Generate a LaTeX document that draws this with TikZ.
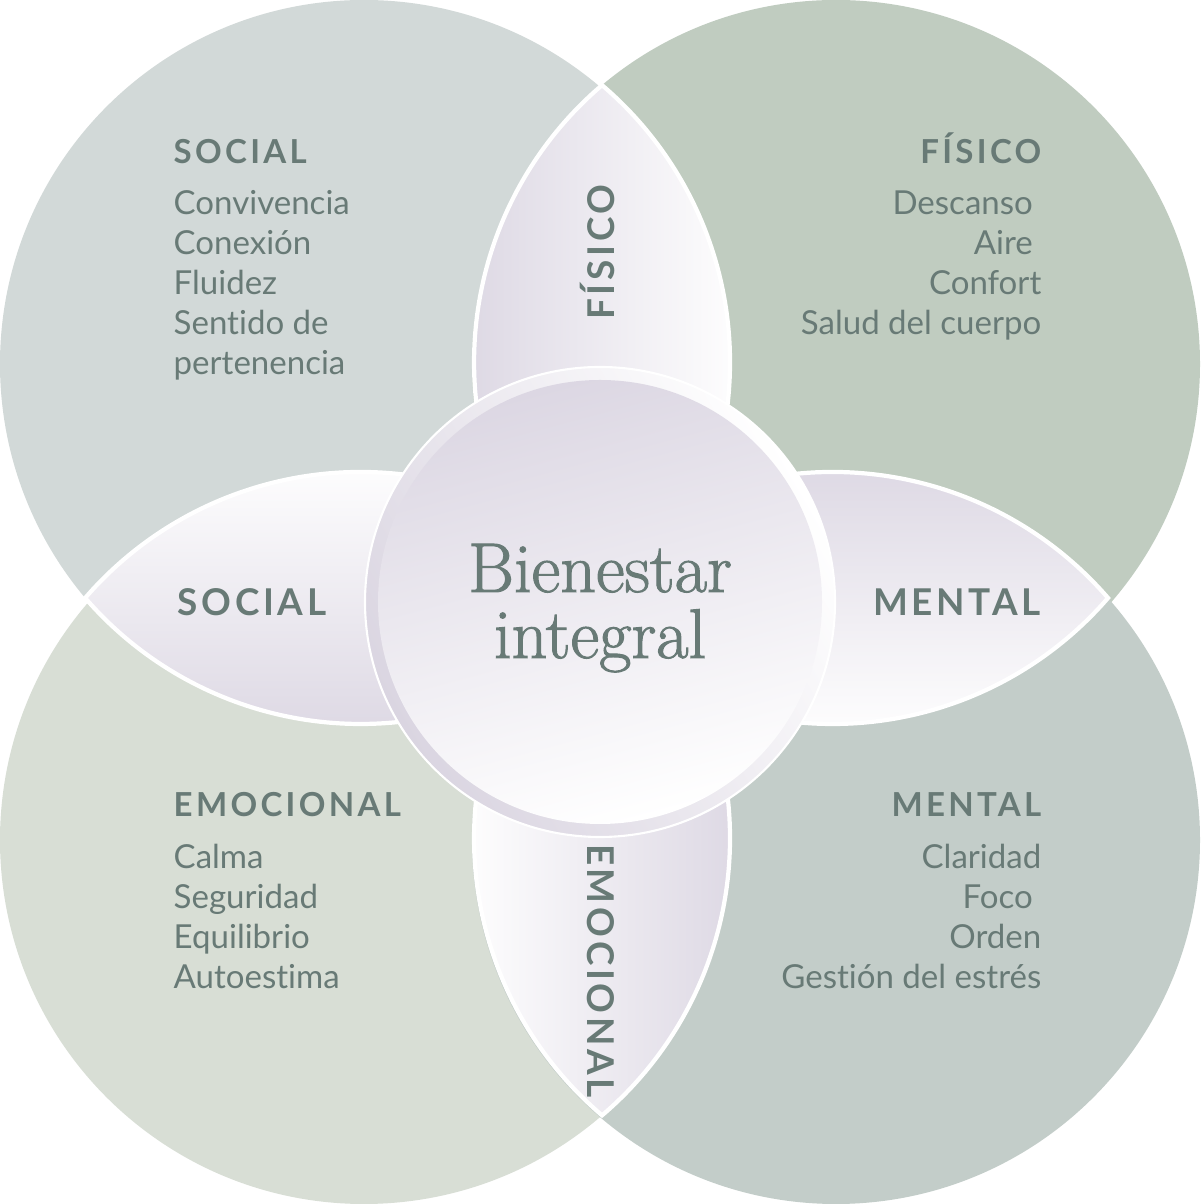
\documentclass[tikz,border=0pt]{standalone}
\usepackage{fontspec}
\newfontfamily\latofont{Lato}[Ligatures=NoCommon]
\newfontfamily\latospaced{Lato}[LetterSpace=10,Ligatures=NoCommon]
\newfontfamily\titlefont{Latin Modern Roman}[FakeBold=1.4]

\definecolor{circTL}{HTML}{D2D9D8}
\definecolor{circTR}{HTML}{C0CCC0}
\definecolor{circBL}{HTML}{D8DED5}
\definecolor{circBR}{HTML}{C3CDC9}
\definecolor{lav}{HTML}{DCD7E3}
\definecolor{lavring}{HTML}{DAD5E1}
\definecolor{ink}{HTML}{687A76}

\begin{document}
\begin{tikzpicture}[bigcirc/.style={circle,minimum size=7.28cm,inner sep=0pt,outer sep=0pt,draw=none},
  petal/.style={draw=white,line width=1.2pt},
  head/.style={text=ink,font=\latospaced\bfseries\fontsize{9.4}{11}\selectfont},
  item/.style={text=ink,font=\latofont\fontsize{9.4}{11}\selectfont},
  tag/.style={text=ink,font=\latospaced\bfseries\fontsize{10.5}{12}\selectfont},
  title/.style={text=ink,font=\titlefont\fontsize{20}{22}\selectfont}]
  \tikzstyle{every node}=[inner sep=0pt]

  \useasboundingbox (0,0) rectangle (12,12.04);
  \fill[white] (0,0) rectangle (12,12.04);

  \node[bigcirc,fill=circTL] (tl) at (3.64,8.40) {};
  \node[bigcirc,fill=circTR] (tr) at (8.36,8.40) {};
  \node[bigcirc,fill=circBL] (bl) at (3.64,3.64) {};
  \node[bigcirc,fill=circBR] (br) at (8.36,3.64) {};

  \path[petal,left color=lav,right color=white] (tr.130.42)
    arc[start angle=130.42,end angle=229.58,radius=3.64]
    arc[start angle=-49.58,end angle=49.58,radius=3.64] -- cycle;
  \path[petal,left color=white,right color=lav] (br.130.42)
    arc[start angle=130.42,end angle=229.58,radius=3.64]
    arc[start angle=-49.58,end angle=49.58,radius=3.64] -- cycle;
  \path[petal,top color=white,bottom color=lav] (tl.220.83)
    arc[start angle=220.83,end angle=319.17,radius=3.64]
    arc[start angle=40.83,end angle=139.17,radius=3.64] -- cycle;
  \path[petal,top color=lav,bottom color=white] (tr.220.83)
    arc[start angle=220.83,end angle=319.17,radius=3.64]
    arc[start angle=40.83,end angle=139.17,radius=3.64] -- cycle;

  \node[circle,minimum size=4.70cm,top color=lavring,bottom color=white,
    shading angle=120,draw=white,line width=0.6pt] (ring) at (6,6.02) {};
  \node[circle,minimum size=4.44cm,top color=lav,bottom color=white,
    shading angle=15] (core) at (ring) {};
  \node[title,anchor=base] (word1) at (6,6.12) {Bienestar};
  \node[title,anchor=base] (word2) at (6,5.46) {integral};

  \node[tag,anchor=base] (tag-soc) at (2.52,5.88) {SOCIAL};
  \node[tag,anchor=base] (tag-men) at (9.57,5.88) {MENTAL};
  \node[tag,anchor=base,rotate=90] (tag-fis) at (6.14,9.52) {FÍSICO};
  \node[tag,anchor=base,rotate=-90] (tag-emo) at (5.87,2.33) {EMOCIONAL};

  \node[head,anchor=base west] (head-soc) at (1.73,10.40) {SOCIAL};
  \foreach \txt [count=\i] in {Convivencia,Conexión,Fluidez,Sentido de,pertenencia}
    \node[item,anchor=base west] (soc-\i) at (1.73,10.29-0.40*\i) {\txt};

  \node[head,anchor=base east] (head-fis) at (10.42,10.40) {FÍSICO};
  \foreach \txt [count=\i] in {Descanso\ \mbox{},Aire\ \mbox{},Confort,Salud del cuerpo}
    \node[item,anchor=base east] (fis-\i) at (10.42,10.29-0.40*\i) {\txt};

  \node[head,anchor=base west] (head-emo) at (1.73,3.87) {EMOCIONAL};
  \foreach \txt [count=\i] in {Calma,Seguridad,Equilibrio,Autoestima}
    \node[item,anchor=base west] (emo-\i) at (1.73,3.75-0.40*\i) {\txt};

  \node[head,anchor=base east] (head-men) at (10.42,3.87) {MENTAL};
  \foreach \txt [count=\i] in {Claridad,Foco\ \mbox{},Orden,Gestión del estrés}
    \node[item,anchor=base east] (men-\i) at (10.42,3.75-0.40*\i) {\txt};
\end{tikzpicture}
\end{document}
